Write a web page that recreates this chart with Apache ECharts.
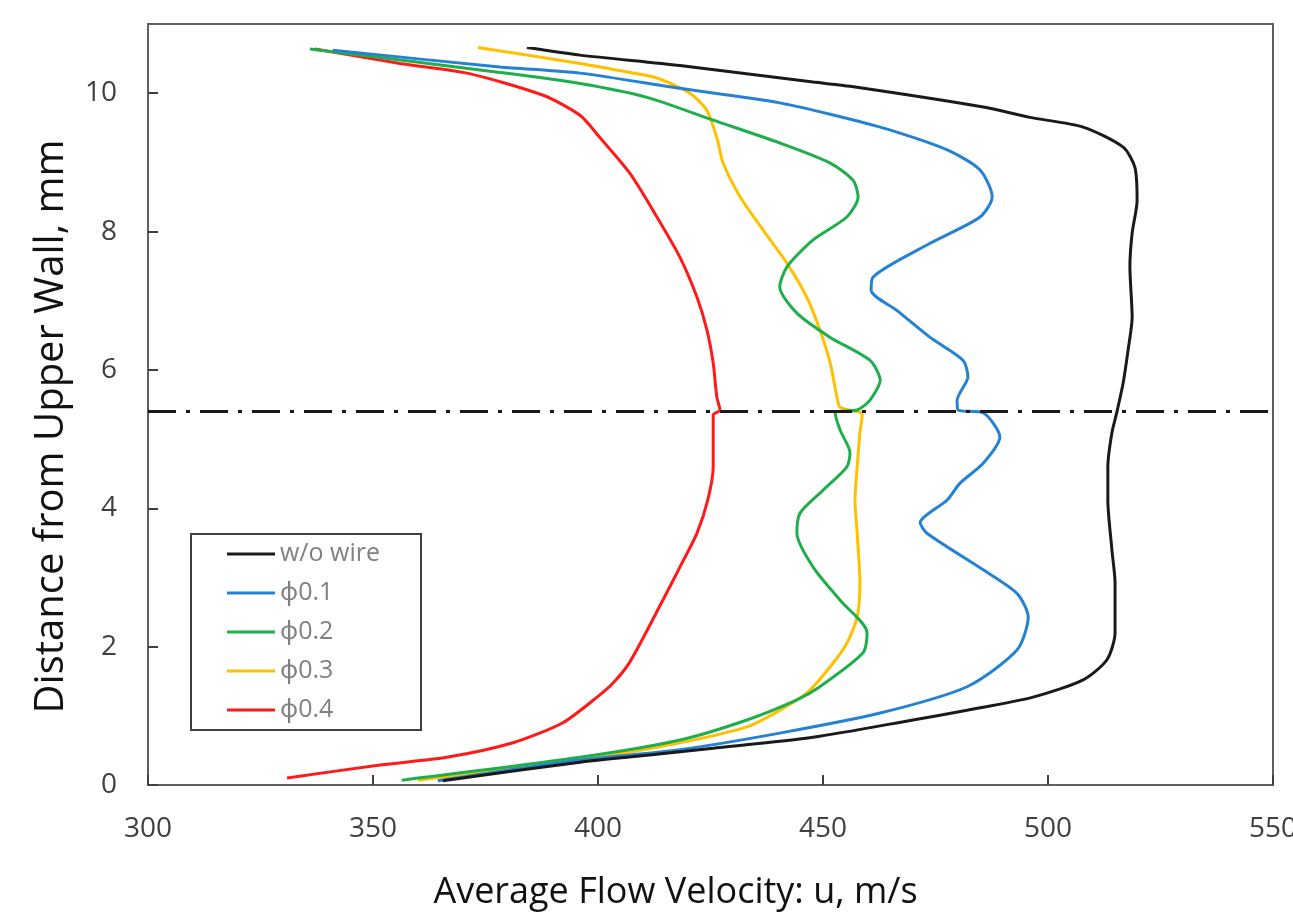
<!DOCTYPE html>
<html>
<head>
<meta charset="utf-8">
<title>Average Flow Velocity profile</title>
<script src="https://cdn.jsdelivr.net/npm/echarts@6/dist/echarts.min.js"></script>
<style>
  html, body { margin: 0; padding: 0; background: #fff; }
  #chart { width: 1293px; height: 918px; }
</style>
</head>
<body>
<div id="chart"></div>
<script>
// velocity u (m/s), distance from upper wall (mm), bottom to top
var woWire = [[365.5,0.06],[396.0,0.33],[410.9,0.43],[425.6,0.53],[447.8,0.69],[470.0,0.94],[482.0,1.08],[496.7,1.27],[507.8,1.52],[513.1,1.81],[514.9,2.20],[514.9,2.92],[514.2,3.40],[513.3,4.12],[513.3,4.60],[514.2,5.09],[515.3,5.39],[516.7,5.81],[517.8,6.29],[518.7,6.76],[518.2,7.49],[518.7,7.98],[519.8,8.45],[519.3,8.93],[516.7,9.22],[507.8,9.51],[496.0,9.65],[485.6,9.80],[456.0,10.10],[447.8,10.16],[418.2,10.40],[396.0,10.55],[384.2,10.66]];
var phi01 = [[364.4,0.06],[396.0,0.36],[418.2,0.51],[440.4,0.75],[462.7,1.04],[482.0,1.42],[493.1,1.95],[495.6,2.43],[493.1,2.77],[485.6,3.11],[473.1,3.64],[471.6,3.79],[477.6,4.12],[480.4,4.36],[485.6,4.65],[489.3,5.03],[485.6,5.38],[480.0,5.42],[479.8,5.56],[482.2,5.90],[481.1,6.14],[473.8,6.47],[466.4,6.86],[460.7,7.15],[461.1,7.34],[473.8,7.83],[484.9,8.21],[487.6,8.50],[484.9,8.89],[477.6,9.18],[462.7,9.51],[440.4,9.86],[418.2,10.07],[396.0,10.29],[378.2,10.38],[341.1,10.62]];
var phi02 = [[356.4,0.07],[396.0,0.40],[418.2,0.65],[433.1,0.94],[444.2,1.23],[449.3,1.42],[458.9,1.91],[459.8,2.20],[453.8,2.67],[447.8,3.15],[444.2,3.64],[444.9,3.93],[450.0,4.26],[455.3,4.60],[456.0,4.80],[453.8,5.13],[452.7,5.38],[457.6,5.42],[460.4,5.56],[462.7,5.85],[460.4,6.14],[451.6,6.47],[444.2,6.82],[440.4,7.20],[442.0,7.49],[447.8,7.88],[455.3,8.21],[457.8,8.50],[456.7,8.74],[451.6,8.99],[440.4,9.28],[425.6,9.61],[410.9,9.94],[396.0,10.14],[378.2,10.30],[336.0,10.64]];
var phi03 = [[360.0,0.07],[396.0,0.36],[418.2,0.61],[433.1,0.84],[440.4,1.08],[446.4,1.33],[451.6,1.71],[455.3,2.05],[457.6,2.43],[458.2,2.92],[457.6,3.64],[457.1,4.12],[457.6,4.60],[458.2,5.09],[458.7,5.35],[458.2,5.39],[453.8,5.46],[453.1,5.61],[451.6,6.10],[449.3,6.58],[446.4,7.05],[442.0,7.54],[436.7,8.02],[431.6,8.50],[427.8,8.99],[426.4,9.36],[424.2,9.75],[420.4,10.00],[413.1,10.22],[407.1,10.30],[396.0,10.43],[373.3,10.66]];
var phi04 = [[330.9,0.10],[351.6,0.29],[366.4,0.40],[381.1,0.61],[392.2,0.90],[399.8,1.27],[403.3,1.47],[407.1,1.78],[414.4,2.67],[418.2,3.15],[422.0,3.64],[424.4,4.12],[425.6,4.60],[425.6,5.35],[427.1,5.42],[426.4,5.61],[425.6,6.10],[424.2,6.58],[422.0,7.05],[418.2,7.63],[413.1,8.21],[407.1,8.84],[400.4,9.36],[396.0,9.68],[387.8,9.97],[370.9,10.29],[356.0,10.43],[337.1,10.64]];

var seriesNames = ['w/o wire', 'ϕ0.1', 'ϕ0.2', 'ϕ0.3', 'ϕ0.4'];
var seriesColors = ['#1a1a1a', '#2581d2', '#1fae4c', '#ffc000', '#ff1a1a'];
var seriesData = [woWire, phi01, phi02, phi03, phi04];

// channel centre line
var centerLine = [[300, 5.4], [550, 5.4]];

var font = '"Open Sans", "Noto Sans", sans-serif';

var series = seriesData.map(function (d, i) {
  return {
    name: seriesNames[i],
    type: 'line',
    data: d,
    smooth: 0.25,
    showSymbol: false,
    symbol: 'none',
    z: 3 + (4 - i),
    lineStyle: { color: seriesColors[i], width: 3 },
    itemStyle: { color: seriesColors[i] }
  };
});
series.push({
  name: 'center',
  type: 'line',
  data: centerLine,
  showSymbol: false,
  symbol: 'none',
  silent: true,
  z: 10,
  lineStyle: { color: '#1a1a1a', width: 3, type: [28, 10, 4, 10] }
});

var myChart = echarts.init(document.getElementById('chart'));
myChart.setOption({
  animation: false,
  backgroundColor: '#fff',
  grid: {
    left: 148, right: 20, top: 24, bottom: 133,
    outerBoundsMode: 'none',
    containLabel: false,
    show: true, borderColor: '#5f5f5f', borderWidth: 2
  },
  legend: {
    data: seriesNames,
    orient: 'vertical',
    left: 191, top: 534,
    backgroundColor: '#fff',
    borderColor: '#404040',
    borderWidth: 2,
    borderRadius: 0,
    padding: [5, 41, 5, 36],
    itemGap: 9,
    itemWidth: 48,
    itemHeight: 3,
    icon: 'rect',
    textStyle: { fontFamily: font, fontSize: 25, color: '#808080', lineHeight: 30 }
  },
  xAxis: {
    type: 'value',
    min: 300, max: 550, interval: 50,
    name: 'Average Flow Velocity: u, m/s',
    nameLocation: 'middle',
    nameGap: 90,
    nameTextStyle: { fontFamily: font, fontSize: 36, color: '#111', padding: [0, 70, 0, 0] },
    axisLine: { show: true, lineStyle: { color: '#5f5f5f', width: 2 } },
    axisTick: { show: true, inside: true, length: 10, lineStyle: { color: '#404040', width: 2 } },
    axisLabel: { margin: 30, fontFamily: font, fontSize: 28, color: '#404040' },
    splitLine: { show: false }
  },
  yAxis: {
    type: 'value',
    min: 0, max: 11, interval: 2,
    name: 'Distance from Upper Wall, mm',
    nameLocation: 'middle',
    nameRotate: 90,
    nameGap: 76,
    nameTextStyle: { fontFamily: font, fontSize: 40, color: '#111', padding: [0, 44, 0, 0] },
    axisLine: { show: true, lineStyle: { color: '#5f5f5f', width: 2 } },
    axisTick: { show: true, inside: true, length: 10, lineStyle: { color: '#404040', width: 2 } },
    axisLabel: { margin: 31, fontFamily: font, fontSize: 28, color: '#404040', showMaxLabel: false },
    splitLine: { show: false }
  },
  series: series
});
</script>
</body>
</html>
